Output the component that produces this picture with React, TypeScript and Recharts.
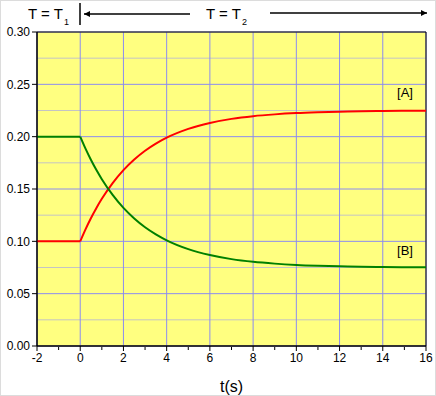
import {
  LineChart,
  Line,
  XAxis,
  YAxis,
  CartesianGrid,
  ReferenceArea,
  ReferenceDot,
  Label,
} from "recharts";

// time (s)
const time = [-2, 0, 0.25, 0.5, 0.75, 1, 1.5, 2, 2.5, 3, 3.5, 4, 5, 6, 7, 8, 9, 10, 11, 12, 13, 14, 15, 16];
// species A (red, rising)
const concA = [0.1, 0.1, 0.1117, 0.1223, 0.1319, 0.1406, 0.1556, 0.168, 0.1781, 0.1865, 0.1933, 0.199, 0.2074, 0.2131, 0.217, 0.2196, 0.2213, 0.2225, 0.2233, 0.2239, 0.2242, 0.2245, 0.2247, 0.2248];
// species B (green, falling)
const concB = [0.2, 0.2, 0.1883, 0.1777, 0.1681, 0.1594, 0.1444, 0.132, 0.1219, 0.1135, 0.1067, 0.101, 0.0926, 0.0869, 0.083, 0.0804, 0.0787, 0.0775, 0.0767, 0.0761, 0.0758, 0.0755, 0.0753, 0.0752];

const xTicks = [-2, 0, 2, 4, 6, 8, 10, 12, 14, 16];
const xMinor = [-1, 1, 3, 5, 7, 9, 11, 13, 15];
const yTicks = [0, 0.05, 0.1, 0.15, 0.2, 0.25, 0.3];
const yMinor = [0.025, 0.075, 0.125, 0.175, 0.225, 0.275];

// split at t = 0 so the step change keeps its sharp corner
const data = time.map((t, i) => ({
  t,
  a0: t <= 0 ? concA[i] : null,
  a1: t >= 0 ? concA[i] : null,
  b0: t <= 0 ? concB[i] : null,
  b1: t >= 0 ? concB[i] : null,
}));

const font = "'Liberation Sans', Arial, sans-serif";
const Empty = () => <g />;
const RED = "#ff0000";
const GREEN = "#008000";

export default function App() {
  return (
    <div style={{ position: "absolute", left: 0, top: 0, width: 436, height: 396, background: "#fff", fontFamily: font }}>
      <LineChart width={436} height={396} data={data} margin={{ top: 32, right: 10, bottom: 0, left: 0 }}>
        <XAxis
          type="number"
          dataKey="t"
          domain={[-2, 16]}
          ticks={xTicks}
          height={1}
          tickSize={5}
          axisLine={{ stroke: "#000" }}
          tickLine={{ stroke: "#000" }}
          tick={{ fill: "#000", fontSize: 12, fontFamily: font }}
        />
        <YAxis
          type="number"
          domain={[0, 0.3]}
          ticks={yTicks}
          width={1}
          tickSize={5}
          tickFormatter={(v: number) => v.toFixed(2)}
          axisLine={{ stroke: "#000" }}
          tickLine={{ stroke: "#000" }}
          tick={{ fill: "#000", fontSize: 12, fontFamily: font }}
        />
        <XAxis xAxisId="m" type="number" dataKey="t" domain={[-2, 16]} ticks={xMinor} tick={<Empty />} tickSize={3} height={49} axisLine={false} tickLine={{ stroke: "#000" }}>
          <Label value="t(s)" position="insideBottom" offset={4} style={{ fill: "#000", fontSize: 16, fontFamily: font }} />
        </XAxis>
        <YAxis yAxisId="m" type="number" domain={[0, 0.3]} ticks={yMinor} tick={<Empty />} tickSize={3} width={36} axisLine={false} tickLine={{ stroke: "#000" }} />
        <CartesianGrid vertical={false} horizontalValues={yMinor} stroke="#c4c4c4" fill="#ffff80" fillOpacity={1} />
        <CartesianGrid stroke="#8c8cf0" />
        <Line dataKey="a0" type="linear" stroke={RED} strokeWidth={2} dot={false} isAnimationActive={false} />
        <Line dataKey="a1" type="monotone" stroke={RED} strokeWidth={2} dot={false} isAnimationActive={false} />
        <Line dataKey="b0" type="linear" stroke={GREEN} strokeWidth={2} dot={false} isAnimationActive={false} />
        <Line dataKey="b1" type="monotone" stroke={GREEN} strokeWidth={2} dot={false} isAnimationActive={false} />
        <ReferenceArea x1={-2} x2={16} y1={0} y2={0.3} fill="none" stroke="#000" strokeWidth={1} />
        <ReferenceDot x={15.03} y={0.2427} r={0} stroke="none" fill="none">
          <Label value="[A]" position="center" style={{ fill: "#000", fontSize: 13, fontFamily: font }} />
        </ReferenceDot>
        <ReferenceDot x={15.03} y={0.0917} r={0} stroke="none" fill="none">
          <Label value="[B]" position="center" style={{ fill: "#000", fontSize: 13, fontFamily: font }} />
        </ReferenceDot>
      </LineChart>
      <svg width={436} height={32} style={{ position: "absolute", left: 0, top: 0 }}>
        <defs>
          <marker id="ah" viewBox="0 0 10 10" refX="10" refY="5" markerWidth="8" markerHeight="6" orient="auto-start-reverse" markerUnits="userSpaceOnUse">
            <path d="M0,0 L10,5 L0,10 z" fill="#000" />
          </marker>
        </defs>
        <text x={28} y={19} fontSize={15} fontFamily={font} fill="#000">T = T</text>
        <text x={64} y={25} fontSize={9} fontFamily={font} fill="#000">1</text>
        <line x1={80} y1={3} x2={80} y2={25} stroke="#000" strokeWidth={1.5} />
        <line x1={84} y1={14} x2={190} y2={14} stroke="#000" strokeWidth={1.5} markerStart="url(#ah)" />
        <text x={206} y={19} fontSize={15} fontFamily={font} fill="#000">T = T</text>
        <text x={242} y={25} fontSize={9} fontFamily={font} fill="#000">2</text>
        <line x1={270} y1={13} x2={427} y2={13} stroke="#000" strokeWidth={1.5} markerEnd="url(#ah)" />
      </svg>
      <div style={{ position: "absolute", left: 0, top: 0, width: 436, height: 396, boxSizing: "border-box", border: "1px solid #dcdcdc", pointerEvents: "none" }} />
    </div>
  );
}
